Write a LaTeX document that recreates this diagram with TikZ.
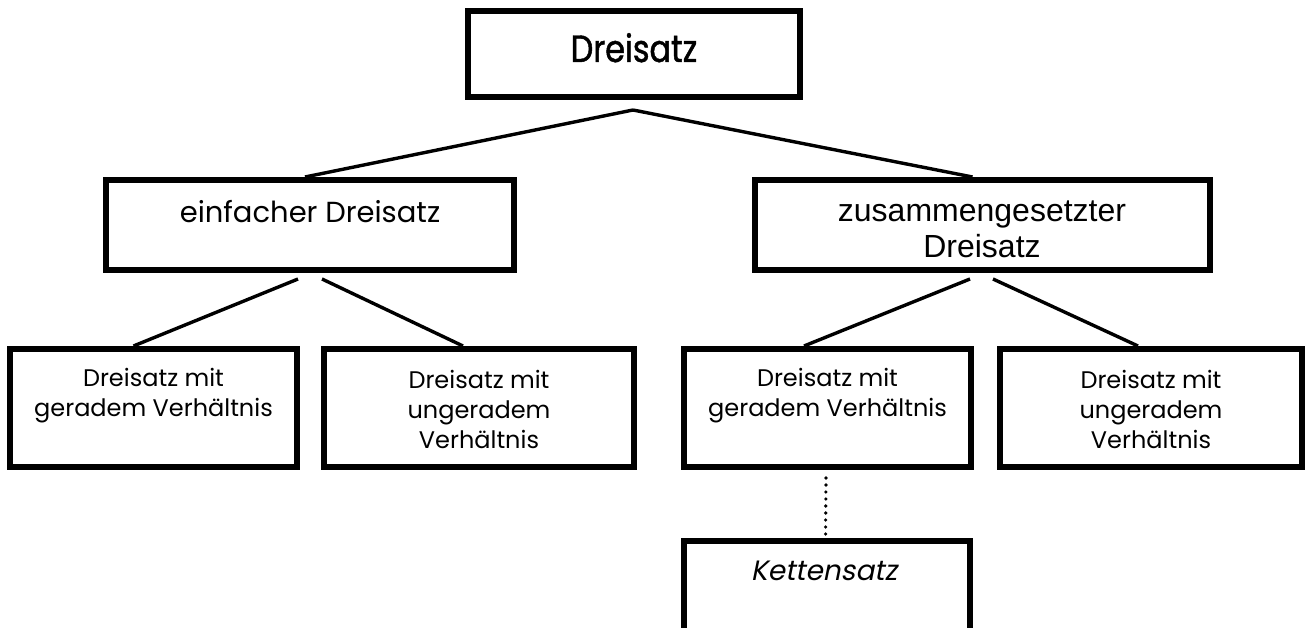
\documentclass[tikz,border=0pt]{standalone}
\usepackage{fontspec}
\newfontfamily\geo{Poppins}
\newfontfamily\geotop[FakeStretch=0.84, FakeBold=1.2]{Poppins}
\newfontfamily\geoit[FakeSlant=0.2]{Poppins}
\newfontfamily\ari{Liberation Sans}
\tikzset{
  box/.style={draw=black, line width=6pt, inner sep=0pt, fill=white},
  conn/.style={draw=black, line width=3.4pt},
  dotconn/.style={draw=black, line width=3.6pt, line cap=round, dash pattern=on 0pt off 7pt},
  txt/.style={inner sep=0pt, anchor=base, align=center},
  ttop/.style={txt, font=\geotop\fontsize{38}{46}\selectfont},
  tmid/.style={txt, font=\geo\fontsize{29}{34}\selectfont},
  tari/.style={txt, font=\ari\fontsize{32}{36}\selectfont},
  tbot/.style={txt, font=\geo\fontsize{24}{30}\selectfont},
  tket/.style={txt, font=\geoit\fontsize{28}{32}\selectfont}
}
\begin{document}
\begin{tikzpicture}[x=1pt, y=-1pt]
\useasboundingbox (0,0) rectangle (1310,628);
\clip (0,0) rectangle (1310,628);
\fill[white] (0,0) rectangle (1310,628);
% boxes
\node[box, minimum width=332pt, minimum height=86pt] (T) at (634,54) {};
\node[box, minimum width=408pt, minimum height=90pt] (E) at (310,225) {};
\node[box, minimum width=455pt, minimum height=90pt] (Z) at (982.5,225) {};
\node[box, minimum width=287pt, minimum height=118pt] (B1) at (153.5,408) {};
\node[box, minimum width=310pt, minimum height=118pt] (B2) at (479,408) {};
\node[box, minimum width=287pt, minimum height=118pt] (B3) at (827.5,408) {};
\node[box, minimum width=302pt, minimum height=118pt] (B4) at (1151,408) {};
\node[box, minimum width=286pt, minimum height=159pt] (K) at (827,620.5) {};
% texts (anchor base = baseline of the last line)
\node[ttop] (Tt) at (634,62) {Dreisatz};
\node[tmid] (Et) at (310,223) {einfacher Dreisatz};
\node[tari] (Zt) at (982,258) {zusammengesetzter\\Dreisatz};
\node[tbot] (B1t) at (153.5,417) {Dreisatz mit\\geradem Verhältnis};
\node[tbot] (B2t) at (479,448) {Dreisatz mit\\ungeradem\\Verhältnis};
\node[tbot] (B3t) at (827.5,417) {Dreisatz mit\\geradem Verhältnis};
\node[tbot] (B4t) at (1151,448) {Dreisatz mit\\ungeradem\\Verhältnis};
\node[tket] (Kt) at (824,580) {Kettensatz};
% connectors
\draw[conn] ([xshift=-1pt,yshift=-10pt]T.south) -- ([xshift=-5pt]E.north);
\draw[conn] ([xshift=-1pt,yshift=-10pt]T.south) -- ([xshift=-10pt]Z.north);
\draw[conn] ([xshift=-12pt,yshift=-6pt]E.south) -- ([xshift=-20pt]B1.north);
\draw[conn] ([xshift=12pt,yshift=-6pt]E.south) -- ([xshift=-16pt]B2.north);
\draw[conn] ([xshift=-12.5pt,yshift=-6pt]Z.south) -- ([xshift=-23.5pt]B3.north);
\draw[conn] ([xshift=10.5pt,yshift=-6pt]Z.south) -- ([xshift=-13pt]B4.north);
\draw[dotconn] ([xshift=-1.5pt,yshift=-8pt]B3.south) -- ([xshift=-1.5pt,yshift=-2pt]K.north);
\end{tikzpicture}
\end{document}
